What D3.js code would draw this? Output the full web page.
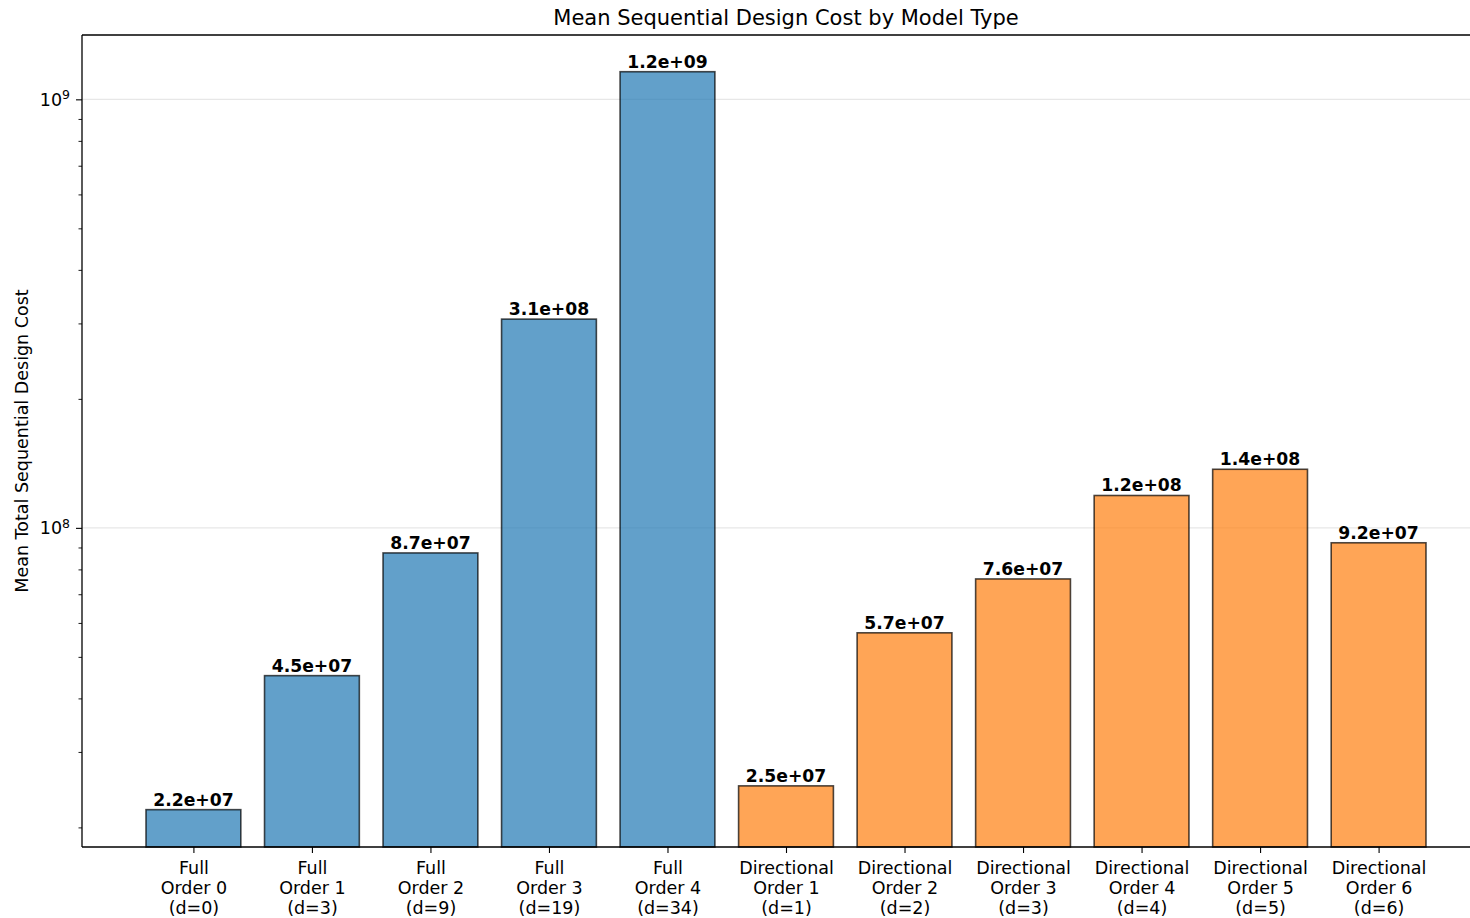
<!DOCTYPE html>
<html>
<head>
<meta charset="utf-8">
<script src="https://cdn.jsdelivr.net/npm/d3@7"></script>
<style>
  html, body { margin: 0; padding: 0; background: #fff; }
  svg { display: block; font-family: "DejaVu Sans", sans-serif; }
</style>
</head>
<body>
<svg id="chart" width="1470" height="918"></svg>
<script>
// Model families, orders and parameter counts for each bar
const families = ["Full", "Full", "Full", "Full", "Full",
  "Directional", "Directional", "Directional", "Directional", "Directional", "Directional"];
const orders = [0, 1, 2, 3, 4, 1, 2, 3, 4, 5, 6];
const dims = [0, 3, 9, 19, 34, 1, 2, 3, 4, 5, 6];
// Mean total sequential design cost per model
const costs = [2.20e7, 4.52e7, 8.74e7, 3.07e8, 1.16e9,
  2.50e7, 5.69e7, 7.60e7, 1.19e8, 1.37e8, 9.23e7];
const yMajorTicks = [1e8, 1e9];
const yMinorTicks = [2e7, 3e7, 4e7, 5e7, 6e7, 7e7, 8e7, 9e7, 2e8, 3e8, 4e8, 5e8, 6e8, 7e8, 8e8, 9e8];

const familyColor = { "Full": "#1f77b4", "Directional": "#ff7f0e" };

const svg = d3.select("#chart");
const plot = { left: 82, right: 1490, top: 35, bottom: 847 };

const x = d3.scaleLinear().domain([-0.94, costs.length - 1 + 0.94]).range([plot.left, plot.right]);
const y = d3.scaleLog().domain([1.80e7, 1.413e9]).range([plot.bottom, plot.top]);
const barW = x(0.4) - x(-0.4);

// Grid lines at major decades
svg.append("g").selectAll("line").data(yMajorTicks).join("line")
  .attr("x1", plot.left).attr("x2", plot.right)
  .attr("y1", d => y(d)).attr("y2", d => y(d))
  .attr("stroke", "#b0b0b0").attr("stroke-opacity", 0.3).attr("stroke-width", 1.1);

// Bars
svg.append("g").selectAll("rect").data(costs).join("rect")
  .attr("x", (d, i) => x(i) - barW / 2)
  .attr("width", barW)
  .attr("y", d => y(d))
  .attr("height", d => plot.bottom - y(d))
  .attr("fill", (d, i) => familyColor[families[i]])
  .attr("fill-opacity", 0.7)
  .attr("stroke", "#000").attr("stroke-opacity", 0.7).attr("stroke-width", 1.6);

// Value labels above bars
svg.append("g").selectAll("text").data(costs).join("text")
  .attr("x", (d, i) => x(i))
  .attr("y", d => y(d) - 4)
  .attr("text-anchor", "middle")
  .attr("font-size", 17.2).attr("font-weight", "bold")
  .text(d => d.toExponential(1).replace(/e([+-])(\d)$/, "e$10$2"));

// Frame
const frame = svg.append("g").attr("stroke", "#000").attr("stroke-width", 1.3).attr("fill", "none");
frame.append("line").attr("x1", plot.left).attr("x2", plot.left).attr("y1", plot.top).attr("y2", plot.bottom);
frame.append("line").attr("x1", plot.left).attr("x2", plot.right).attr("y1", plot.top).attr("y2", plot.top);
frame.append("line").attr("x1", plot.left).attr("x2", plot.right).attr("y1", plot.bottom).attr("y2", plot.bottom);
frame.append("line").attr("x1", plot.right).attr("x2", plot.right).attr("y1", plot.top).attr("y2", plot.bottom);

// Y axis: major ticks with 10^n labels, minor ticks unlabeled
const yAxis = svg.append("g").attr("transform", `translate(${plot.left},0)`)
  .call(d3.axisLeft(y).tickValues(yMajorTicks).tickSize(6).tickPadding(6).tickFormat(""));
yAxis.select(".domain").remove();
yAxis.selectAll(".tick line").attr("stroke", "#000").attr("stroke-width", 1.1);
yAxis.selectAll(".tick").each(function(d) {
  const t = d3.select(this).append("text")
    .attr("x", -12).attr("dy", "0.35em")
    .attr("text-anchor", "end").attr("fill", "#000")
    .attr("font-size", 17.5).attr("font-family", "DejaVu Sans, sans-serif");
  t.append("tspan").text("10");
  t.append("tspan").attr("font-size", 12.5).attr("dy", "-0.55em").text(Math.round(Math.log10(d)));
});
const yMinor = svg.append("g").attr("transform", `translate(${plot.left},0)`)
  .call(d3.axisLeft(y).tickValues(yMinorTicks).tickSize(3.5).tickFormat(""));
yMinor.select(".domain").remove();
yMinor.selectAll(".tick line").attr("stroke", "#000").attr("stroke-width", 0.9);

// X axis with three-line category labels
const xAxis = svg.append("g").attr("transform", `translate(0,${plot.bottom})`)
  .call(d3.axisBottom(x).tickValues(d3.range(costs.length)).tickSize(6).tickFormat(""));
xAxis.select(".domain").remove();
xAxis.selectAll(".tick line").attr("stroke", "#000").attr("stroke-width", 1.1);
xAxis.selectAll(".tick").each(function(i) {
  const lines = [families[i], `Order ${orders[i]}`, `(d=${dims[i]})`];
  const t = d3.select(this).append("text")
    .attr("text-anchor", "middle").attr("fill", "#000")
    .attr("font-size", 17.5).attr("font-family", "DejaVu Sans, sans-serif");
  lines.forEach((s, k) => t.append("tspan").attr("x", 0).attr("y", 27 + k * 19.8).text(s));
});

// Title and axis label
svg.append("text")
  .attr("x", (plot.left + plot.right) / 2).attr("y", 25)
  .attr("text-anchor", "middle").attr("font-size", 21)
  .text("Mean Sequential Design Cost by Model Type");

svg.append("text")
  .attr("transform", `translate(28,${(plot.top + plot.bottom) / 2}) rotate(-90)`)
  .attr("text-anchor", "middle").attr("font-size", 17.5)
  .text("Mean Total Sequential Design Cost");
</script>
</body>
</html>
